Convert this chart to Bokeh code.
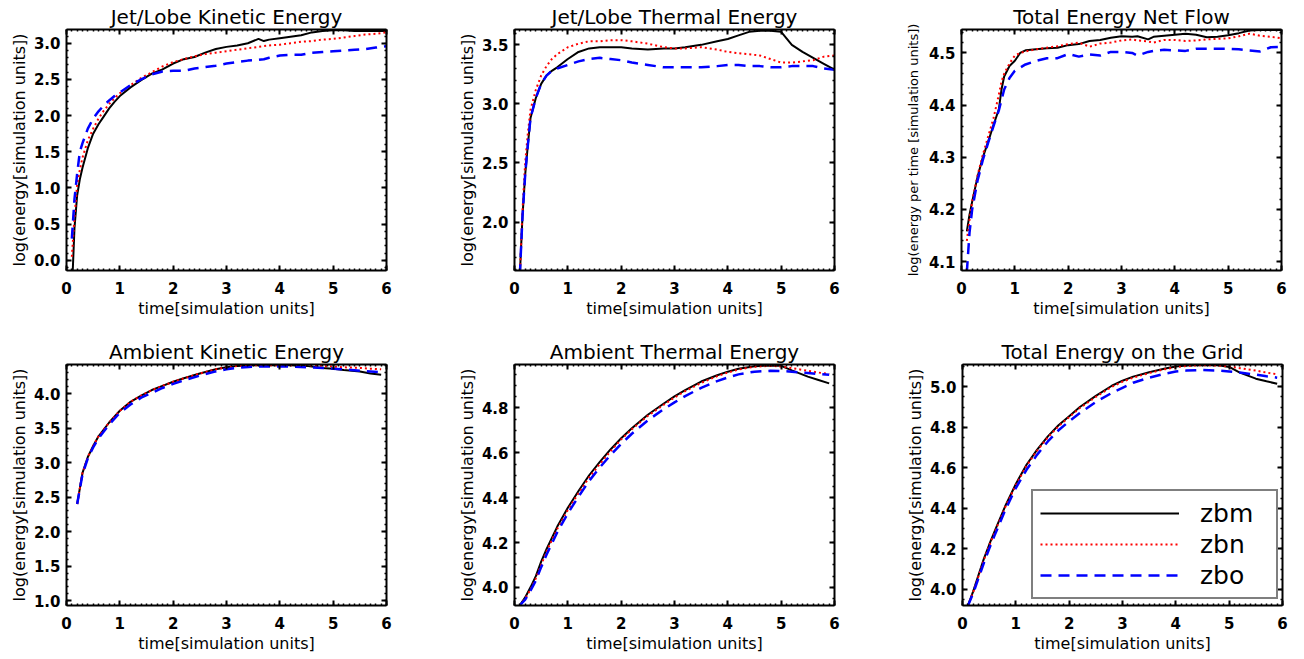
from bokeh.plotting import figure
from bokeh.layouts import column, row
from bokeh.models import (LinearAxis, SingleIntervalTicker, PrintfTickFormatter,
                          Range1d, Legend, LegendItem)
from bokeh.embed import file_html
from bokeh.resources import INLINE

FONT = "DejaVu Sans"
SERIES = ["zbm", "zbn", "zbo"]

# ---------------- data ----------------
# Panel 1: Jet/Lobe Kinetic Energy
t1 = [0.1, 0.15, 0.2, 0.25, 0.3, 0.4, 0.5, 0.6, 0.7, 0.8, 0.9, 1.0, 1.2, 1.4, 1.6, 1.8,
      2.0, 2.2, 2.4, 2.6, 2.8, 3.0, 3.2, 3.4, 3.6, 3.7, 3.8, 4.0, 4.2, 4.4, 4.6, 4.8,
      5.0, 5.2, 5.4, 5.6, 5.8, 6.0]
zbm1 = [-0.45, 0.45, 0.9, 1.12, 1.28, 1.55, 1.75, 1.88, 1.99, 2.1, 2.19, 2.27, 2.39, 2.49,
        2.58, 2.64, 2.72, 2.78, 2.81, 2.87, 2.92, 2.95, 2.97, 3.0, 3.06, 3.03, 3.05, 3.07,
        3.09, 3.11, 3.15, 3.17, 3.18, 3.18, 3.17, 3.17, 3.17, 3.17]
zbn1 = [0.05, 0.6, 1.05, 1.25, 1.42, 1.66, 1.82, 1.96, 2.07, 2.16, 2.24, 2.31, 2.42, 2.52,
        2.6, 2.68, 2.74, 2.78, 2.82, 2.85, 2.87, 2.89, 2.91, 2.93, 2.95, 2.96, 2.97, 2.98,
        3.0, 3.02, 3.03, 3.05, 3.06, 3.08, 3.1, 3.12, 3.13, 3.15]
zbo1 = [0.3, 0.85, 1.2, 1.5, 1.62, 1.82, 1.96, 2.06, 2.14, 2.21, 2.27, 2.32, 2.42, 2.5,
        2.57, 2.61, 2.62, 2.62, 2.65, 2.67, 2.69, 2.72, 2.74, 2.76, 2.77, 2.78, 2.8, 2.83,
        2.84, 2.84, 2.87, 2.88, 2.89, 2.9, 2.91, 2.92, 2.94, 2.96]

# Panel 2: Jet/Lobe Thermal Energy
t2 = [0.1, 0.15, 0.2, 0.25, 0.3, 0.4, 0.5, 0.6, 0.7, 0.8, 1.0, 1.2, 1.4, 1.6, 1.8, 2.0,
      2.2, 2.5, 2.8, 3.0, 3.2, 3.5, 3.8, 4.0, 4.2, 4.4, 4.6, 4.8, 5.0, 5.2, 5.4, 5.6, 5.8, 6.0]
zbm2 = [1.55, 2.05, 2.4, 2.65, 2.88, 3.05, 3.17, 3.24, 3.28, 3.31, 3.38, 3.44, 3.47, 3.48,
        3.48, 3.48, 3.47, 3.46, 3.47, 3.47, 3.48, 3.5, 3.53, 3.55, 3.58, 3.61, 3.62, 3.62,
        3.61, 3.5, 3.44, 3.39, 3.34, 3.29]
zbn2 = [1.55, 2.1, 2.5, 2.75, 2.95, 3.12, 3.24, 3.32, 3.38, 3.42, 3.48, 3.51, 3.53, 3.53,
        3.54, 3.54, 3.53, 3.51, 3.48, 3.47, 3.47, 3.48, 3.46, 3.44, 3.43, 3.42, 3.41, 3.38,
        3.35, 3.35, 3.36, 3.37, 3.4, 3.41]
zbo2 = [1.55, 2.05, 2.4, 2.65, 2.88, 3.05, 3.17, 3.24, 3.28, 3.3, 3.33, 3.36, 3.38, 3.39,
        3.38, 3.37, 3.35, 3.33, 3.31, 3.31, 3.31, 3.31, 3.32, 3.33, 3.33, 3.32, 3.32, 3.31,
        3.31, 3.32, 3.32, 3.32, 3.3, 3.29]

# Panel 3: Total Energy Net Flow
t3 = [0.1, 0.15, 0.2, 0.3, 0.4, 0.5, 0.6, 0.7, 0.75, 0.8, 0.9, 1.0, 1.1, 1.2, 1.4, 1.6,
      1.8, 2.0, 2.2, 2.4, 2.6, 2.8, 3.0, 3.2, 3.3, 3.5, 3.6, 3.8, 4.0, 4.2, 4.4, 4.6, 4.8,
      5.0, 5.2, 5.4, 5.6, 5.8, 6.0]
zbm3 = [4.158, 4.19, 4.215, 4.262, 4.3, 4.33, 4.362, 4.392, 4.43, 4.455, 4.475, 4.485, 4.5,
        4.505, 4.507, 4.509, 4.51, 4.515, 4.517, 4.523, 4.525, 4.529, 4.532, 4.531, 4.532,
        4.526, 4.531, 4.533, 4.535, 4.537, 4.535, 4.53, 4.531, 4.534, 4.538, 4.543, 4.544,
        4.544, 4.544]
zbn3 = [4.14, 4.18, 4.215, 4.265, 4.305, 4.34, 4.375, 4.42, 4.445, 4.46, 4.48, 4.495, 4.5,
        4.503, 4.507, 4.51, 4.513, 4.517, 4.52, 4.512, 4.518, 4.52, 4.524, 4.526, 4.524,
        4.522, 4.52, 4.525, 4.525, 4.523, 4.524, 4.526, 4.527, 4.528, 4.532, 4.537, 4.533,
        4.531, 4.528]
zbo3 = [4.08, 4.155, 4.2, 4.255, 4.295, 4.328, 4.36, 4.39, 4.41, 4.43, 4.452, 4.466, 4.472,
        4.478, 4.485, 4.49, 4.49, 4.498, 4.493, 4.497, 4.495, 4.502, 4.502, 4.5, 4.495,
        4.502, 4.504, 4.506, 4.505, 4.504, 4.508, 4.508, 4.508, 4.508, 4.507, 4.505, 4.503,
        4.511, 4.512]

# Panel 4: Ambient Kinetic Energy
t4 = [0.2, 0.3, 0.4, 0.5, 0.6, 0.8, 1.0, 1.2, 1.4, 1.6, 1.8, 2.0, 2.2, 2.5, 2.8, 3.0,
      3.2, 3.5, 3.8, 4.0, 4.2, 4.5, 4.8, 5.0, 5.2, 5.5, 5.7, 5.9]
zbm4 = [2.4, 2.85, 3.08, 3.24, 3.38, 3.58, 3.75, 3.88, 3.97, 4.05, 4.11, 4.17, 4.22, 4.29,
        4.35, 4.38, 4.4, 4.41, 4.41, 4.41, 4.41, 4.4, 4.37, 4.36, 4.34, 4.32, 4.29, 4.27]
zbn4 = [2.4, 2.85, 3.08, 3.24, 3.38, 3.58, 3.75, 3.88, 3.97, 4.05, 4.11, 4.17, 4.22, 4.29,
        4.35, 4.38, 4.4, 4.41, 4.41, 4.41, 4.41, 4.41, 4.4, 4.39, 4.38, 4.37, 4.36, 4.35]
zbo4 = [2.4, 2.83, 3.06, 3.22, 3.35, 3.55, 3.72, 3.84, 3.94, 4.01, 4.08, 4.14, 4.19, 4.26,
        4.32, 4.35, 4.37, 4.39, 4.39, 4.39, 4.39, 4.38, 4.37, 4.36, 4.35, 4.33, 4.32, 4.31]

# Panel 5: Ambient Thermal Energy
t5 = [0.1, 0.2, 0.3, 0.4, 0.5, 0.6, 0.8, 1.0, 1.2, 1.4, 1.6, 1.8, 2.0, 2.2, 2.5, 2.8,
      3.0, 3.2, 3.5, 3.8, 4.0, 4.2, 4.5, 4.8, 5.0, 5.2, 5.5, 5.7, 5.9]
zbm5 = [3.92, 3.955, 4.0, 4.05, 4.115, 4.17, 4.27, 4.355, 4.43, 4.5, 4.56, 4.615, 4.665,
        4.71, 4.77, 4.82, 4.852, 4.88, 4.918, 4.946, 4.962, 4.975, 4.986, 4.99, 4.988,
        4.968, 4.94, 4.925, 4.91]
zbn5 = [3.92, 3.95, 3.99, 4.04, 4.1, 4.16, 4.26, 4.345, 4.42, 4.49, 4.55, 4.607, 4.66,
        4.705, 4.765, 4.815, 4.847, 4.875, 4.912, 4.942, 4.958, 4.972, 4.984, 4.988, 4.985,
        4.978, 4.966, 4.958, 4.952]
zbo5 = [3.92, 3.945, 3.985, 4.03, 4.09, 4.145, 4.245, 4.33, 4.405, 4.475, 4.535, 4.59,
        4.64, 4.685, 4.745, 4.795, 4.825, 4.853, 4.89, 4.92, 4.936, 4.95, 4.962, 4.966,
        4.965, 4.962, 4.956, 4.952, 4.948]

# Panel 6: Total Energy on the Grid
t6 = [0.1, 0.2, 0.3, 0.4, 0.5, 0.6, 0.8, 1.0, 1.2, 1.4, 1.6, 1.8, 2.0, 2.2, 2.5, 2.8,
      3.0, 3.2, 3.5, 3.8, 4.0, 4.2, 4.5, 4.8, 5.0, 5.2, 5.5, 5.7, 5.9]
zbm6 = [3.918, 3.99, 4.07, 4.15, 4.22, 4.285, 4.41, 4.52, 4.615, 4.69, 4.755, 4.81, 4.855,
        4.9, 4.955, 5.005, 5.03, 5.05, 5.072, 5.09, 5.1, 5.105, 5.108, 5.106, 5.098, 5.07,
        5.04, 5.027, 5.015]
zbn6 = [3.918, 3.985, 4.065, 4.145, 4.215, 4.28, 4.405, 4.515, 4.61, 4.685, 4.75, 4.805,
        4.85, 4.895, 4.95, 5.0, 5.025, 5.045, 5.068, 5.087, 5.097, 5.103, 5.107, 5.105, 5.1,
        5.092, 5.08, 5.07, 5.062]
zbo6 = [3.918, 3.98, 4.055, 4.13, 4.2, 4.265, 4.39, 4.5, 4.59, 4.665, 4.73, 4.785, 4.83,
        4.87, 4.925, 4.97, 4.995, 5.02, 5.045, 5.065, 5.075, 5.08, 5.083, 5.08, 5.076, 5.07,
        5.06, 5.052, 5.045]

titles = ["Jet/Lobe Kinetic Energy", "Jet/Lobe Thermal Energy", "Total Energy Net Flow",
          "Ambient Kinetic Energy", "Ambient Thermal Energy", "Total Energy on the Grid"]
ylabels = ["log(energy[simulation units])", "log(energy[simulation units])",
           "log(energy per time [simulation units])", "log(energy[simulation units])",
           "log(energy[simulation units])", "log(energy[simulation units])"]
xlabel = "time[simulation units]"

# ---------------- styling ----------------
COLORS = ["#000000", "#ff0000", "#0000ff"]
DASHES = ["solid", "2 3", "11 7"]
WIDTHS = [2, 2, 2.5]


def ticker(interval, nminor):
    return SingleIntervalTicker(interval=interval, num_minor_ticks=nminor)


def style_axis(ax, labels=True):
    ax.axis_line_width = 2
    ax.axis_line_color = "black"
    ax.major_tick_in = 5
    ax.major_tick_out = 0
    ax.minor_tick_in = 2
    ax.minor_tick_out = 0
    ax.major_tick_line_width = 2
    ax.minor_tick_line_width = 1.5
    ax.major_tick_line_color = "black"
    ax.minor_tick_line_color = "black"
    if labels:
        ax.major_label_text_font = FONT
        ax.major_label_text_font_size = "15px"
        ax.major_label_text_font_style = "bold"
        ax.major_label_text_color = "black"
        ax.axis_label_text_font = FONT
        ax.axis_label_text_font_size = "16px"
        ax.axis_label_text_font_style = "normal"
        ax.axis_label_text_color = "black"
    else:
        # mirrored (unlabelled) axis: ticks only
        ax.major_label_text_color = None
        ax.major_label_text_font_size = "1px"
        ax.major_label_standoff = 0
        ax.axis_label = None


def make_panel(k, t, ys, yr, yint, yminor, bl, br, bb, ylab_size="16px",
               ylab_standoff=2, legend=False):
    p = figure(frame_width=320, frame_height=241, output_backend="svg",
               toolbar_location=None,
               x_range=Range1d(0, 6), y_range=Range1d(*yr),
               min_border_left=bl, min_border_right=br, min_border_top=29,
               min_border_bottom=bb, x_axis_label=xlabel, y_axis_label=ylabels[k])
    p.title.text = titles[k]
    p.title.align = "center"
    p.title.text_font = FONT
    p.title.text_font_size = "20px"
    p.title.text_font_style = "normal"
    p.title.text_color = "black"
    p.title.standoff = 2
    p.xgrid.grid_line_color = None
    p.ygrid.grid_line_color = None
    p.outline_line_color = None
    p.background_fill_color = "white"

    p.xaxis.ticker = ticker(1, 10)
    p.yaxis.ticker = ticker(yint, yminor)
    p.yaxis.formatter = PrintfTickFormatter(format="%.1f")
    p.xaxis.formatter = PrintfTickFormatter(format="%d")
    for ax in p.xaxis:
        style_axis(ax)
        ax.major_label_standoff = 11
        ax.axis_label_standoff = 2
    for ax in p.yaxis:
        style_axis(ax)
        ax.major_label_standoff = 6
        ax.axis_label_standoff = ylab_standoff
        ax.axis_label_text_font_size = ylab_size

    top = LinearAxis(ticker=ticker(1, 10))
    style_axis(top, labels=False)
    p.add_layout(top, "above")
    right = LinearAxis(ticker=ticker(yint, yminor))
    style_axis(right, labels=False)
    p.add_layout(right, "right")

    rends = []
    for y, c, d, w in zip(ys, COLORS, DASHES, WIDTHS):
        r = p.line(t, y, line_color=c, line_dash=d, line_width=w)
        rends.append(r)

    if legend:
        items = [LegendItem(label=s, renderers=[r]) for s, r in zip(SERIES, rends)]
        lg = Legend(items=items, location=(69, 6))
        lg.border_line_color = "black"
        lg.border_line_width = 2
        lg.background_fill_color = "white"
        lg.background_fill_alpha = 1
        lg.label_text_font = FONT
        lg.label_text_font_size = "25px"
        lg.label_text_color = "black"
        lg.glyph_width = 139
        lg.glyph_height = 30
        lg.label_height = 30
        lg.label_width = 69
        lg.label_standoff = 21
        lg.padding = 7
        lg.spacing = 1
        lg.margin = 0
        p.add_layout(lg, "center")
    return p


# top row (bottom border 65), bottom row (bottom border 53)
p1 = make_panel(0, t1, [zbm1, zbn1, zbo1], (-0.14, 3.19), 0.5, 5, 66, 68, 65)
p2 = make_panel(1, t2, [zbm2, zbn2, zbo2], (1.59, 3.63), 0.5, 5, 58, 68, 65)
p3 = make_panel(2, t3, [zbm3, zbn3, zbo3], (4.083, 4.545), 0.1, 5, 59, 8, 65,
                ylab_size="13px", ylab_standoff=5)
p4 = make_panel(3, t4, [zbm4, zbn4, zbo4], (0.93, 4.42), 0.5, 5, 66, 68, 53)
p5 = make_panel(4, t5, [zbm5, zbn5, zbo5], (3.919, 4.994), 0.2, 4, 58, 68, 53)
p6 = make_panel(5, t6, [zbm6, zbn6, zbo6], (3.92, 5.11), 0.2, 4, 59, 8, 53,
                legend=True)

layout = column(row(p1, p2, p3), row(p4, p5, p6))
open("out.html", "w").write(file_html(layout, INLINE))
